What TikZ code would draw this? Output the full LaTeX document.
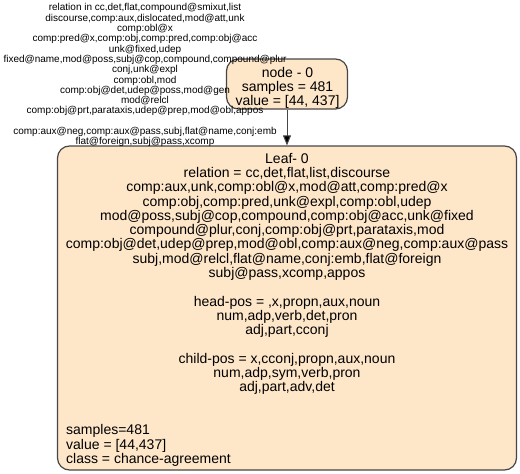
\documentclass[tikz,border=0pt]{standalone}
\usepackage{fontspec}
\setmainfont{Liberation Sans}
\usetikzlibrary{arrows.meta}
\definecolor{boxfill}{RGB}{254,230,201}
\definecolor{boxline}{RGB}{70,70,70}
\begin{document}
\begin{tikzpicture}[x=1pt,y=1pt,
  boxstyle/.style={draw=boxline, line width=1.2pt, fill=boxfill, rounded corners=12pt, inner sep=0pt},
  bigtext/.style={font=\fontsize{14}{14.3}\selectfont, inner sep=0pt},
  smalltext/.style={font=\fontsize{10}{10.3}\selectfont, inner sep=0pt, align=center},
  conn/.style={draw=boxline, line width=1pt, -{Triangle[length=10pt,width=8pt,fill=black]}}]
\useasboundingbox (0,0) rectangle (520,-474);
\node[boxstyle, minimum width=121pt, minimum height=50pt] (root) at (287,-84) {};
\node[boxstyle, minimum width=459pt, minimum height=324pt] (leaf) at (287,-308) {};
\draw[conn] (root.south) -- (leaf.north);
\node[bigtext, align=center, anchor=north] (roottext) at (287.5,-66.8)
  {node - 0\\samples = 481\\value = [44, 437]};
\node[bigtext, align=center, anchor=north] (leaftext) at (287,-152.8)
  {Leaf- 0\\
   relation = cc,det,flat,list,discourse\\
   comp:aux,unk,comp:obl@x,mod@att,comp:pred@x\\
   comp:obj,comp:pred,unk@expl,comp:obl,udep\\
   mod@poss,subj@cop,compound,comp:obj@acc,unk@fixed\\
   compound@plur,conj,comp:obj@prt,parataxis,mod\\
   comp:obj@det,udep@prep,mod@obl,comp:aux@neg,comp:aux@pass\\
   subj,mod@relcl,flat@name,conj:emb,flat@foreign\\
   subj@pass,xcomp,appos\\[14.3pt]
   head-pos = ,x,propn,aux,noun\\
   num,adp,verb,det,pron\\
   adj,part,cconj\\[14.3pt]
   child-pos = x,cconj,propn,aux,noun\\
   num,adp,sym,verb,pron\\
   adj,part,adv,det};
\node[bigtext, align=left, anchor=north west] (leafstats) at (66,-424.5)
  {samples=481\\value = [44,437]\\class = chance-agreement};
\node[smalltext, anchor=north] (edgelabel) at (145,-3.5)
  {relation in cc,det,flat,compound@smixut,list\\
   discourse,comp:aux,dislocated,mod@att,unk\\
   comp:obl@x\\
   comp:pred@x,comp:obj,comp:pred,comp:obj@acc\\
   unk@fixed,udep\\
   fixed@name,mod@poss,subj@cop,compound,compound@plur\\
   conj,unk@expl\\
   comp:obl,mod\\
   comp:obj@det,udep@poss,mod@gen\\
   mod@relcl\\
   comp:obj@prt,parataxis,udep@prep,mod@obl,appos\\[10.3pt]
   comp:aux@neg,comp:aux@pass,subj,flat@name,conj:emb\\
   flat@foreign,subj@pass,xcomp};
\end{tikzpicture}
\end{document}
